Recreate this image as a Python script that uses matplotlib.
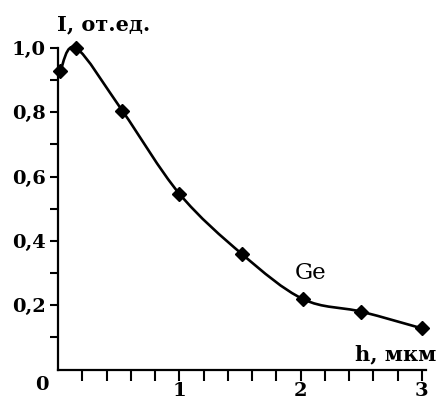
import matplotlib
matplotlib.use("Agg")
import matplotlib.pyplot as plt
import numpy as np
from matplotlib.path import Path
from matplotlib.patches import PathPatch

# Data
h_values = [0.02, 0.15, 0.53, 1.0, 1.52, 2.02, 2.5, 3.0]
I_values = [0.93, 1.0, 0.805, 0.547, 0.358, 0.219, 0.18, 0.128]
x_tick_labels = ["1", "2", "3"]
y_tick_labels = ["0,2", "0,4", "0,6", "0,8", "1,0"]
y_label = "I, от.ед."
x_label = "h, мкм"
series_label = "Ge"

fig = plt.figure(figsize=(4.36, 4.0), dpi=100)
ax = fig.add_axes([58/436, 30.5/400, 367.5/436, 321.5/400])
ax.set_xlim(0, 3.03)
ax.set_ylim(0, 1.0)

# smooth curve (Catmull-Rom -> cubic Bezier) through the data points
P = np.column_stack([h_values, I_values])
n = len(P)
verts = [tuple(P[0])]
codes = [Path.MOVETO]
for i in range(n - 1):
    p0 = P[max(i - 1, 0)]
    p1 = P[i]
    p2 = P[i + 1]
    p3 = P[min(i + 2, n - 1)]
    c1 = p1 + (p2 - p0) / 6.0
    c2 = p2 - (p3 - p1) / 6.0
    verts += [tuple(c1), tuple(c2), tuple(p2)]
    codes += [Path.CURVE4] * 3
patch = PathPatch(Path(verts, codes), facecolor="none", edgecolor="black",
                  lw=1.9, clip_on=False, capstyle="round", joinstyle="round")
ax.add_patch(patch)
ax.plot(h_values, I_values, linestyle="none", marker="D", markersize=7.5,
        color="black", clip_on=False, zorder=5)

for s in ["top", "right"]:
    ax.spines[s].set_visible(False)
for s in ["left", "bottom"]:
    ax.spines[s].set_linewidth(1.6)

serif_bold = dict(family="DejaVu Serif", weight="bold")

ax.set_yticks(np.arange(1, 11) * 0.1)
ax.set_yticklabels(["" if i % 2 else y_tick_labels[i // 2 - 1] for i in range(1, 11)],
                   fontdict=dict(size=14, **serif_bold))
ax.set_xticks(np.arange(1, 16) * 0.2)
xl = []
for i in range(1, 16):
    xl.append(x_tick_labels[i // 5 - 1] if i % 5 == 0 else "")
ax.set_xticklabels(xl, fontdict=dict(size=14, **serif_bold))
ax.tick_params(axis="y", direction="out", length=6, width=1.5, pad=3)
ax.tick_params(axis="x", direction="out", length=8, width=1.5, pad=1)

fig.text(42/436, 1 - 385/400, "0", ha="center", va="center", size=14, **serif_bold)
fig.text(104/436, 1 - 24/400, y_label, ha="center", va="center", size=15, **serif_bold)
fig.text(436/436, 1 - 360/400, x_label, ha="right", va="baseline", size=15, **serif_bold)
ax.text(2.086, 0.30, series_label, ha="center", va="center", size=16.5, family="DejaVu Serif")

fig.savefig("out.png", dpi=100)
